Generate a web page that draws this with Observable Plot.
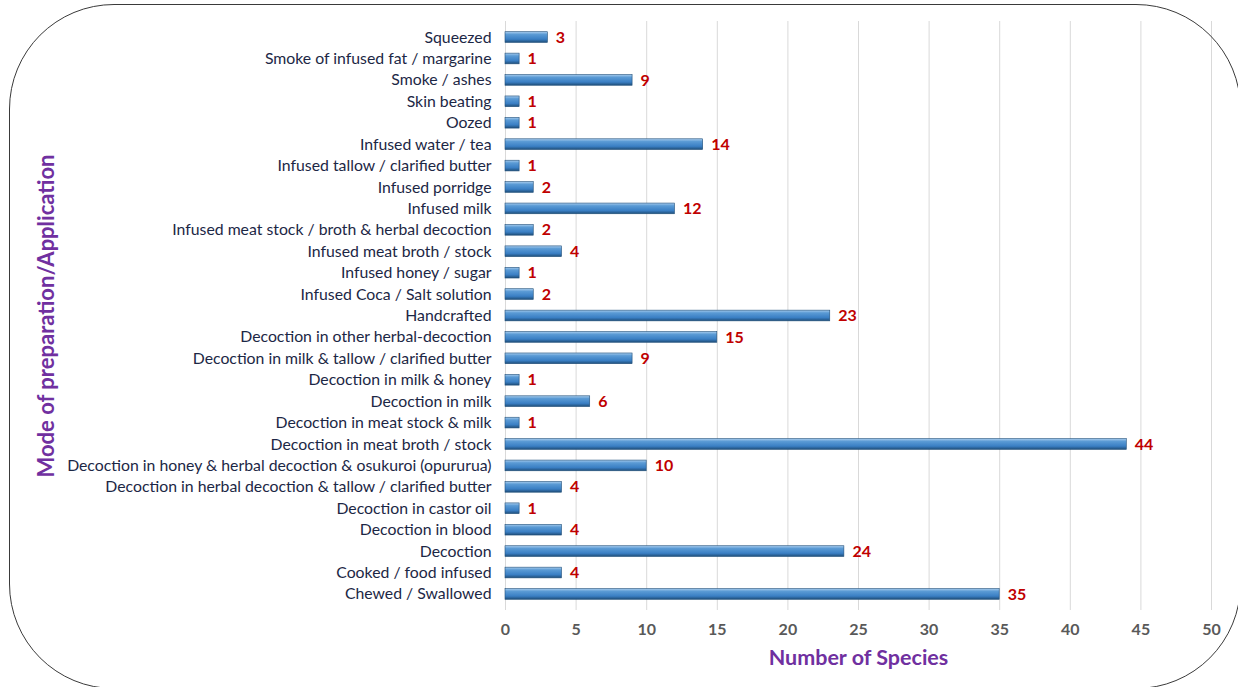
<!DOCTYPE html>
<html>
<head>
<meta charset="utf-8">
<script src="https://cdn.jsdelivr.net/npm/d3@7"></script>
<script src="https://cdn.jsdelivr.net/npm/@observablehq/plot@0.6"></script>
<style>
  html, body { margin: 0; padding: 0; background: #fff; overflow: hidden; }
  #wrap { position: relative; width: 1238px; height: 687px; overflow: hidden; }
  #frame { position: absolute; left: 9px; top: 4px; width: 1232px; height: 685px;
           border: 1.8px solid #3a3a3a; border-radius: 105px; box-sizing: border-box; pointer-events: none; }
  #chart { position: absolute; left: 0; top: 0; }
</style>
</head>
<body>
<div id="wrap"><div id="chart"></div><div id="frame"></div></div>
<script>
const categories = [
  "Squeezed",
  "Smoke of infused fat / margarine",
  "Smoke / ashes",
  "Skin beating",
  "Oozed",
  "Infused water / tea",
  "Infused tallow / clarified butter",
  "Infused porridge",
  "Infused milk",
  "Infused meat stock / broth & herbal decoction",
  "Infused meat broth / stock",
  "Infused honey / sugar",
  "Infused Coca / Salt solution",
  "Handcrafted",
  "Decoction in other herbal-decoction",
  "Decoction in milk & tallow / clarified butter",
  "Decoction in milk & honey",
  "Decoction in milk",
  "Decoction in meat stock & milk",
  "Decoction in meat broth / stock",
  "Decoction in honey & herbal decoction & osukuroi (opururua)",
  "Decoction in herbal decoction & tallow / clarified butter",
  "Decoction in castor oil",
  "Decoction in blood",
  "Decoction",
  "Cooked / food infused",
  "Chewed / Swallowed"
];
const species = [3, 1, 9, 1, 1, 14, 1, 2, 12, 2, 4, 1, 2, 23, 15, 9, 1, 6, 1, 44, 10, 4, 1, 4, 24, 4, 35];
const xTicks = [0, 5, 10, 15, 20, 25, 30, 35, 40, 45, 50];
const xTitle = "Number of Species";
const yTitle = "Mode of preparation/Application";

const data = categories.map((c, i) => ({category: c, value: species[i]}));

const plot = Plot.plot({
  width: 1238,
  height: 687,
  marginLeft: 505,
  marginRight: 27,
  marginTop: 21,
  marginBottom: 77,
  style: {fontFamily: "Lato, 'Open Sans', sans-serif", background: "transparent", overflow: "visible"},
  x: {domain: [0, 50], ticks: xTicks},
  y: {domain: categories, padding: 0.5, round: false},
  marks: [
    Plot.gridX(xTicks, {stroke: "#d9d9d9", strokeOpacity: 1, strokeWidth: 1}),
    Plot.axisX(xTicks, {tickSize: 0, tickPadding: 13, fontSize: 16, fontWeight: "bold", fill: "#595959", label: null}),
    Plot.axisY({tickSize: 0, tickPadding: 14, fontSize: 15.8, fill: "#1c2745", label: null}),
    Plot.barX(data, {x: "value", y: "category", fill: "url(#barGrad)", stroke: "#1f4e79", strokeWidth: 0.6}),
    Plot.text(data, {x: "value", y: "category", text: d => String(d.value), dx: 8, textAnchor: "start",
      fill: "#c00000", fontWeight: "bold", fontSize: 16}),
    Plot.text([xTitle], {frameAnchor: "bottom", dy: 54, fontSize: 21.5, fontWeight: "bold", fill: "#7030a0"}),
    Plot.text([yTitle], {frameAnchor: "left", dx: -459, rotate: -90, textAnchor: "middle", fontSize: 22, fontWeight: "bold", fill: "#7030a0"})
  ]
});

const defs = d3.select(plot).insert("defs", ":first-child");
const g = defs.append("linearGradient").attr("id", "barGrad").attr("x1", 0).attr("y1", 0).attr("x2", 0).attr("y2", 1);
g.append("stop").attr("offset", "0%").attr("stop-color", "#a9cdee");
g.append("stop").attr("offset", "25%").attr("stop-color", "#5b9bd5");
g.append("stop").attr("offset", "70%").attr("stop-color", "#3a7fc4");
g.append("stop").attr("offset", "100%").attr("stop-color", "#1f4e79");

document.getElementById("chart").appendChild(plot);
</script>
</body>
</html>
